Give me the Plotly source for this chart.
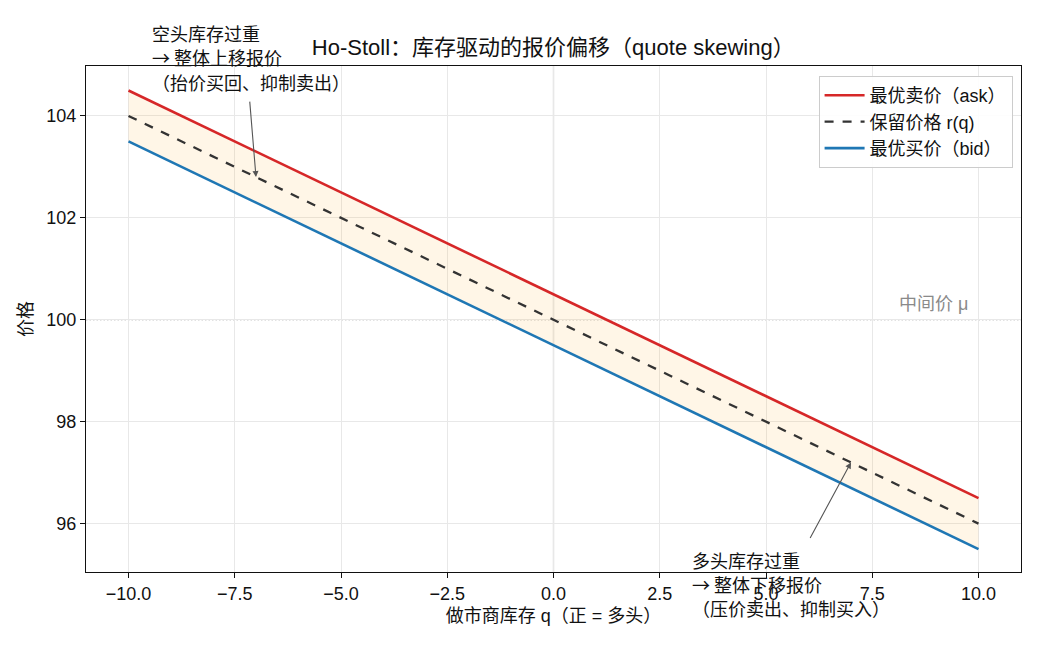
import plotly.graph_objects as go

q = [-10, -5, 0, 5, 10]
r_q = [104.0, 102.0, 100.0, 98.0, 96.0]
ask = [104.5, 102.5, 100.5, 98.5, 96.5]
bid = [103.5, 101.5, 99.5, 97.5, 95.5]
mid = 100.0
x_ticks = [-10, -7.5, -5, -2.5, 0, 2.5, 5, 7.5, 10]
y_ticks = [96, 98, 100, 102, 104]
short_note = ["空头库存过重", "→ 整体上移报价", "（抬价买回、抑制卖出）"]
long_note = ["多头库存过重", "→ 整体下移报价", "（压价卖出、抑制买入）"]

FONT = "Liberation Sans, Noto Sans CJK SC, sans-serif"
CJK = "Noto Sans CJK SC, sans-serif"

fig = go.Figure()
# shaded spread
fig.add_trace(go.Scatter(x=q, y=bid, mode="lines", line=dict(width=0), showlegend=False, hoverinfo="skip"))
fig.add_trace(go.Scatter(x=q, y=ask, mode="lines", line=dict(width=0), fill="tonexty",
                         fillcolor="rgba(255,170,40,0.11)", showlegend=False, hoverinfo="skip"))
fig.add_trace(go.Scatter(x=q, y=ask, mode="lines", name="最优卖价（ask）", line=dict(color="#d62728", width=2.6)))
fig.add_trace(go.Scatter(x=q, y=r_q, mode="lines", name="保留价格 r(q)", line=dict(color="#333333", width=2.3, dash="dash")))
fig.add_trace(go.Scatter(x=q, y=bid, mode="lines", name="最优买价（bid）", line=dict(color="#1f77b4", width=2.6)))

# reference lines
fig.add_shape(type="line", xref="x", yref="paper", x0=0, x1=0, y0=0, y1=1,
              line=dict(color="#b0b0b0", width=1.2), layer="below")
fig.add_shape(type="line", xref="paper", yref="y", x0=0, x1=1, y0=mid, y1=mid,
              line=dict(color="#8c8c8c", width=1.2, dash="1.5px,2px"), layer="below")
fig.add_annotation(x=9.8, y=100.3, xref="x", yref="y", text="中间价 μ", showarrow=False,
                   xanchor="right", yanchor="middle", font=dict(size=18, color="#8a8a8a"))

# arrows
fig.add_annotation(x=-7, y=102.8, ax=-7.15, ay=104.31, xref="x", yref="y", axref="x", ayref="y",
                   text="", showarrow=True, arrowhead=2, arrowsize=1.1, arrowwidth=1.1, arrowcolor="#555555")
fig.add_annotation(x=7, y=97.2, ax=6.02, ay=95.69, xref="x", yref="y", axref="x", ayref="y",
                   text="", showarrow=True, arrowhead=2, arrowsize=1.1, arrowwidth=1.1, arrowcolor="#555555")

# note text, one line each (line centres in pixels -> paper coords)
top_px = [33, 57, 82]
bot_px = [560, 584, 608]
for line, p in zip(short_note, top_px):
    fig.add_annotation(x=0.0684, y=(572 - p) / 506, xref="paper", yref="paper", xanchor="left",
                       yanchor="middle", text=line, showarrow=False,
                       font=dict(size=18, color="#111111", family=CJK))
for line, p in zip(long_note, bot_px):
    fig.add_annotation(x=0.646, y=(572 - p) / 506, xref="paper", yref="paper", xanchor="left",
                       yanchor="middle", text=line, showarrow=False,
                       font=dict(size=18, color="#111111", family=CJK))

fig.update_layout(
    width=1040, height=650,
    margin=dict(l=86, r=19, t=66, b=78),
    paper_bgcolor="white", plot_bgcolor="white",
    font=dict(family=FONT, size=18, color="#111111"),
    title=dict(text="Ho-Stoll：库存驱动的报价偏移（quote skewing）", x=0.532, xanchor="center",
               y=1 - 47 / 650, yanchor="middle", font=dict(size=22, color="#111111")),
    legend=dict(x=0.991, y=0.98, xanchor="right", yanchor="top", bgcolor="rgba(255,255,255,0.9)",
                bordercolor="#cccccc", borderwidth=1, font=dict(size=18), traceorder="normal",
                tracegroupgap=2, itemwidth=40),
    showlegend=True,
)
fig.update_xaxes(range=[-11.0, 11.0], tickvals=x_ticks, tickformat=".1f", ticks="outside", ticklen=5,
                 tickcolor="#111", showline=True, linecolor="#111", linewidth=1.2, mirror=True,
                 showgrid=True, gridcolor="#e8e8e8", gridwidth=1, zeroline=False,
                 title=dict(text="做市商库存 q（正 = 多头）", font=dict(size=18), standoff=6),
                 tickfont=dict(size=18))
fig.update_yaxes(range=[95.05, 104.98], tickvals=y_ticks, ticks="outside", ticklen=5,
                 tickcolor="#111", showline=True, linecolor="#111", linewidth=1.2, mirror=True,
                 showgrid=True, gridcolor="#e8e8e8", gridwidth=1, zeroline=False,
                 title=dict(text="价格", font=dict(size=18), standoff=8),
                 tickfont=dict(size=18))

fig.write_html("out.html")
